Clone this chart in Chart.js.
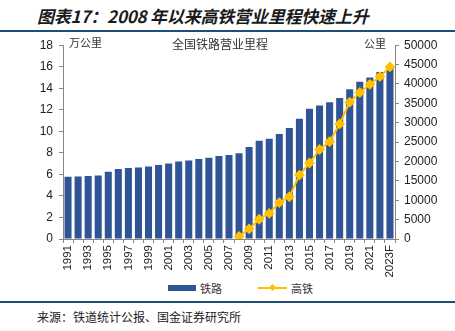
<!DOCTYPE html>
<html lang="zh">
<head>
<meta charset="UTF-8">
<title>2008年以来高铁营业里程快速上升</title>
<script src="https://cdn.jsdelivr.net/npm/chart.js@4.4.0/dist/chart.umd.min.js"></script>
<style>
    body {
        margin: 0;
        width: 455px;
        height: 331px;
        background: #fff;
        position: relative;
        overflow: hidden;
        font-family: 'Noto Sans CJK SC', 'Liberation Sans', sans-serif;
        color: #222;
    }
    .fig-title {
        position: absolute;
        left: 37px;
        top: 3px;
        font-size: 17px;
        font-weight: bold;
        font-style: italic;
        color: #1a1a1a;
        white-space: nowrap;
        letter-spacing: -0.2px;
    }
    .rule {
        position: absolute;
        left: 0;
        width: 455px;
        height: 2px;
        background: #1f4e79;
    }
    #wrap { position: absolute; left: 0; top: 32px; }
    .note {
        position: absolute;
        font-size: 11px;
        color: #333;
        white-space: nowrap;
    }
    .legend {
        position: absolute;
        top: 280px;
        left: 168px;
        font-size: 11px;
        color: #333;
        display: flex;
        align-items: center;
    }
    .sw-bar { display: inline-block; width: 28px; height: 6px; background: #2f5597; margin-right: 4px; }
    .sw-line { display: inline-block; position: relative; width: 29px; height: 2px; background: #ffc000; margin: 0 4px 0 36px; }
    .sw-line::after {
        content: ''; position: absolute; left: 12px; top: -2px; width: 5px; height: 5px;
        background: #ffc000; transform: rotate(45deg);
    }
    .source {
        position: absolute;
        left: 37px;
        top: 308px;
        font-size: 12px;
        color: #222;
    }
</style>
</head>
<body>
<div class="fig-title">图表17：2008 年以来高铁营业里程快速上升</div>
<div class="rule" style="top:30px"></div>
<div id="wrap"><canvas id="rail" width="455" height="245"></canvas></div>
<div class="note" style="left:69px;top:34px">万公里</div>
<div class="note" style="left:172px;top:35px;font-size:12px">全国铁路营业里程</div>
<div class="note" style="left:364px;top:35px">公里</div>
<div class="legend"><span class="sw-bar"></span>铁路<span class="sw-line"></span>高铁</div>
<div class="rule" style="top:301px"></div>
<div class="source">来源：铁道统计公报、国金证券研究所</div>

<script>
const years = ['1991','1992','1993','1994','1995','1996','1997','1998','1999','2000',
    '2001','2002','2003','2004','2005','2006','2007','2008','2009','2010',
    '2011','2012','2013','2014','2015','2016','2017','2018','2019','2020',
    '2021','2022','2023F'];

// 全国铁路营业里程（万公里）
const railway = [5.78, 5.81, 5.86, 5.90, 6.24, 6.49, 6.60, 6.64, 6.74, 6.87,
    7.01, 7.19, 7.30, 7.44, 7.54, 7.71, 7.80, 7.97, 8.55, 9.12,
    9.32, 9.76, 10.31, 11.18, 12.10, 12.40, 12.70, 13.10, 13.90, 14.60,
    15.00, 15.50, 16.10];

// 高铁营业里程（公里）
const highSpeed = [null, null, null, null, null, null, null, null, null, null,
    null, null, null, null, null, null, null, 672, 2600, 5100,
    6600, 9400, 10900, 16500, 19600, 23100, 25100, 29700, 35300, 37800,
    39900, 41900, 44400];

const leftTicks = { min: 0, max: 18, step: 2 };
const rightTicks = { min: 0, max: 50000, step: 5000 };

const tickFont = { family: "'Liberation Sans', Arial, sans-serif", size: 12 };
const xFont = { family: "'Liberation Sans', Arial, sans-serif", size: 11.5 };

new Chart(document.getElementById('rail').getContext('2d'), {
    data: {
        labels: years,
        datasets: [
            {
                type: 'line',
                label: '高铁',
                data: highSpeed,
                yAxisID: 'y2',
                borderColor: '#ffc000',
                backgroundColor: '#ffc000',
                borderWidth: 2,
                pointStyle: 'rectRot',
                pointRadius: 4,
                tension: 0,
                order: 0
            },
            {
                type: 'bar',
                label: '铁路',
                data: railway,
                yAxisID: 'y',
                backgroundColor: '#2f5597',
                barPercentage: 0.7,
                categoryPercentage: 1.0,
                order: 1
            }
        ]
    },
    options: {
        responsive: false,
        animation: false,
        layout: { padding: { top: 10, left: 0, right: 0, bottom: 0 } },
        plugins: { legend: { display: false }, tooltip: { enabled: false } },
        scales: {
            x: {
                offset: true,
                grid: { offset: true, drawOnChartArea: false, tickLength: 4, color: '#888' },
                border: { color: '#888' },
                ticks: {
                    font: xFont,
                    color: '#222',
                    autoSkip: false,
                    maxRotation: 90,
                    minRotation: 90,
                    padding: 2,
                    callback: function (v, i) { return i % 2 === 0 ? this.getLabelForValue(v) : ''; }
                },
                afterFit: (axis) => { axis.height = 38; }
            },
            y: {
                position: 'left',
                min: leftTicks.min,
                max: leftTicks.max,
                grid: { drawOnChartArea: false, tickLength: 4, color: '#888' },
                border: { color: '#888' },
                ticks: { stepSize: leftTicks.step, font: tickFont, color: '#222', padding: 6 },
                afterFit: (axis) => { axis.width = 63; }
            },
            y2: {
                position: 'right',
                min: rightTicks.min,
                max: rightTicks.max,
                grid: { drawOnChartArea: false, tickLength: 4, color: '#888' },
                border: { color: '#888' },
                ticks: {
                    stepSize: rightTicks.step, font: tickFont, color: '#222', padding: 5,
                    callback: (v) => String(v)
                },
                afterFit: (axis) => { axis.width = 60; }
            }
        }
    }
});
</script>
</body>
</html>
